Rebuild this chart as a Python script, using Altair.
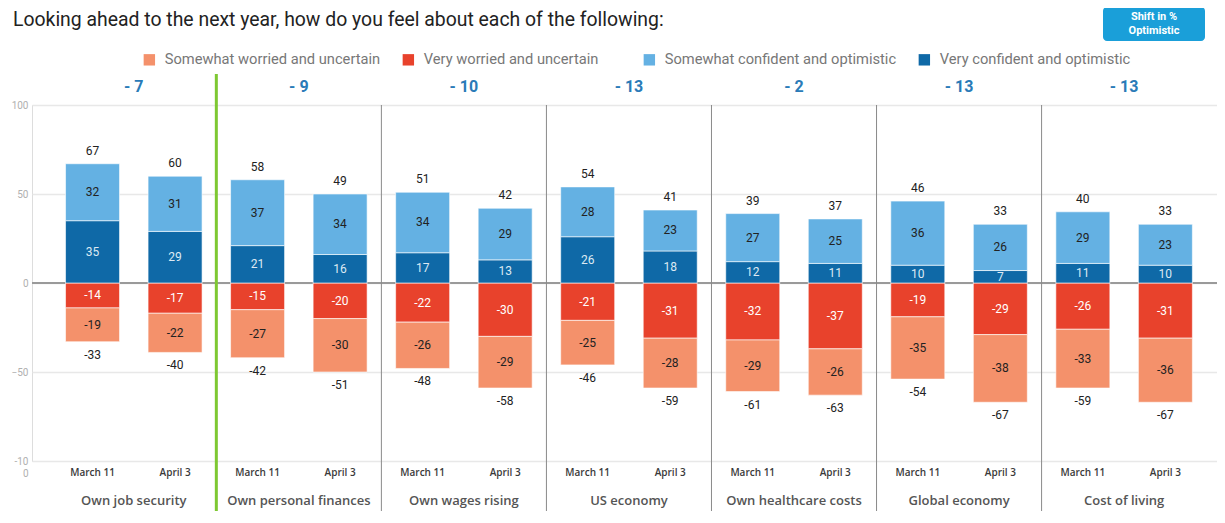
import altair as alt
import pandas as pd

categories = ["Own job security", "Own personal finances", "Own wages rising", "US economy",
              "Own healthcare costs", "Global economy", "Cost of living"]
dates = ["March 11", "April 3"]
very_conf = [[35, 29], [21, 16], [17, 13], [26, 18], [12, 11], [10, 7], [11, 10]]
some_conf = [[32, 31], [37, 34], [34, 29], [28, 23], [27, 25], [36, 26], [29, 23]]
very_worr = [[-14, -17], [-15, -20], [-22, -30], [-21, -31], [-32, -37], [-19, -29], [-26, -31]]
some_worr = [[-19, -22], [-27, -30], [-26, -29], [-25, -28], [-29, -26], [-35, -38], [-33, -36]]
pos_total = [[67, 60], [58, 49], [51, 42], [54, 41], [39, 37], [46, 33], [40, 33]]
neg_total = [[-33, -40], [-42, -51], [-48, -58], [-46, -59], [-61, -63], [-54, -67], [-59, -67]]
shift = [-7, -9, -10, -13, -2, -13, -13]

series = ["Somewhat worried and uncertain", "Very worried and uncertain",
          "Somewhat confident and optimistic", "Very confident and optimistic"]
colors = ["#f4916b", "#e8422c", "#64b1e3", "#0f69a7"]
text_colors = ["#222222", "#ffffff", "#222222", "#dde9f3"]

FONT = "Roboto"
LFONT = "Open Sans"

rows, tot_rows, date_rows = [], [], []
for ci, cat in enumerate(categories):
    for di, d in enumerate(dates):
        xc = ci * 2 + di + 0.5
        p0 = 0
        for name, val, tc in [(series[3], very_conf[ci][di], text_colors[3]),
                              (series[2], some_conf[ci][di], text_colors[2])]:
            rows.append(dict(cat=cat, date=d, xc=xc, series=name, side="pos", y0=p0, y1=p0 + val,
                             mid=p0 + val / 2, label=str(val), tcolor=tc))
            p0 += val
        n0 = 0
        for name, val, tc in [(series[1], very_worr[ci][di], text_colors[1]),
                              (series[0], some_worr[ci][di], text_colors[0])]:
            rows.append(dict(cat=cat, date=d, xc=xc, series=name, side="neg", y0=n0, y1=n0 + val,
                             mid=n0 + val / 2, label=str(val), tcolor=tc))
            n0 += val
        tot_rows.append(dict(xc=xc, top=p0, bottom=n0,
                             ptxt=str(pos_total[ci][di]), ntxt=str(neg_total[ci][di])))
        date_rows.append(dict(xc=xc, date=d))

seg = pd.DataFrame(rows)
tot = pd.DataFrame(tot_rows)
dts = pd.DataFrame(date_rows)
cats = pd.DataFrame(dict(xc=[i * 2 + 1 for i in range(len(categories))], cat=categories,
                         shift=[("- " if s < 0 else "+ ") + str(abs(s)) for s in shift]))
bounds = pd.DataFrame(dict(xc=[i * 2 for i in range(1, len(categories))]))

xscale = alt.Scale(domain=[-0.173, 14.065], nice=False, zero=False)
yscale = alt.Scale(domain=[-100, 100], nice=False)
X = alt.X("xc:Q", scale=xscale, axis=None)
yaxis = alt.Axis(values=[-100, -50, 0, 50, 100], domain=False, ticks=False,
                 labelColor="#b0b0b0", labelFontSize=10, labelPadding=4,
                 gridColor="#e8e8e8", gridWidth=1.5,
                 labelExpr="datum.value == -100 ? ['-10', '0'] : datum.label")


def legend(lx):
    return alt.Legend(orient="none", legendX=lx, legendY=-53,
                      direction="horizontal", symbolType="square",
                      symbolSize=130, symbolStrokeWidth=0, labelLimit=400,
                      labelFontSize=14.7, labelColor="#777777",
                      labelFont=FONT, columnPadding=20, labelOffset=8)


bars_neg = alt.Chart(seg).transform_filter("datum.side == 'neg'").mark_bar(
    width=54, stroke="white", strokeWidth=0.6).encode(
    x=X, y=alt.Y("y0:Q", scale=yscale, title=None, axis=yaxis), y2="y1:Q",
    color=alt.Color("series:N", scale=alt.Scale(domain=series[:2], range=colors[:2]),
                    title=None, legend=legend(110)),
)
bars_pos = alt.Chart(seg).transform_filter("datum.side == 'pos'").mark_bar(
    width=54, stroke="white", strokeWidth=0.6).encode(
    x=X, y=alt.Y("y0:Q", scale=yscale, title=None), y2="y1:Q",
    color=alt.Color("series:N", scale=alt.Scale(domain=series[2:], range=colors[2:]),
                    title=None, legend=legend(610)),
)

zero = alt.Chart(pd.DataFrame(dict(z=[0]))).mark_rule(color="#9a9a9a", strokeWidth=2).encode(
    y=alt.Y("z:Q", scale=yscale))

seg_text = alt.Chart(seg).mark_text(fontSize=12, font=FONT, baseline="middle").encode(
    x=X, y=alt.Y("mid:Q", scale=yscale), text="label:N",
    color=alt.Color("tcolor:N", scale=None))

top_text = alt.Chart(tot).mark_text(fontSize=12, font=FONT, color="#222", dy=-13,
                                    baseline="middle").encode(
    x=X, y=alt.Y("top:Q", scale=yscale), text="ptxt:N")
bot_text = alt.Chart(tot).mark_text(fontSize=12, font=FONT, color="#222", dy=13,
                                    baseline="middle").encode(
    x=X, y=alt.Y("bottom:Q", scale=yscale), text="ntxt:N")

date_text = alt.Chart(dts).mark_text(fontSize=10, font=LFONT, fontWeight=600, color="#3a3a3a",
                                     baseline="middle").encode(
    x=X, y=alt.value(368), text="date:N")
cat_text = alt.Chart(cats).mark_text(fontSize=13, font=LFONT, fontWeight=600, color="#555",
                                     baseline="middle").encode(
    x=X, y=alt.value(396), text="cat:N")
shift_text = alt.Chart(cats).mark_text(fontSize=16, font=FONT, fontWeight="bold",
                                       color="#2a7bb8", baseline="middle").encode(
    x=X, y=alt.value(-18), text="shift:N")

sep = alt.Chart(bounds).transform_filter("datum.xc > 2").mark_rule(
    color="#8a8a8a", strokeWidth=1).encode(x=X, y=alt.value(0), y2=alt.value(410))
green = alt.Chart(bounds).transform_filter("datum.xc == 2").mark_rule(
    color="#7ec832", strokeWidth=3).encode(x=X, y=alt.value(-31), y2=alt.value(410))

title = alt.Chart(pd.DataFrame(dict(t=["Looking ahead to the next year, how do you feel about each of the following:"]))
                  ).mark_text(fontSize=19.4, font=FONT, color="#222", align="left",
                              baseline="middle").encode(
    x=alt.value(-19), y=alt.value(-85), text="t:N")

btn = alt.Chart(pd.DataFrame(dict(k=[1]))).mark_rect(color="#1a9fd9", cornerRadius=4).encode(
    x=alt.value(1071), x2=alt.value(1173), y=alt.value(-98), y2=alt.value(-64))
btn_text = alt.Chart(pd.DataFrame(dict(t=["Shift in %", "Optimistic"], o=[-88, -74]))).mark_text(
    fontSize=11, font=FONT, fontWeight="bold", color="white", baseline="middle").encode(
    x=alt.value(1122), y=alt.Y("o:Q", scale=None), text="t:N")

chart = alt.layer(zero, bars_neg, bars_pos, seg_text, top_text, bot_text, sep, green,
                  date_text, cat_text, shift_text, title, btn, btn_text).resolve_scale(
    color="independent").properties(
    width=1185, height=356, autosize="none",
    padding={"left": 24, "top": 97, "right": 0, "bottom": 50},
).configure_view(stroke=None).configure(font=FONT)

chart.save("out.html", embed_options={"renderer": "svg", "actions": False})
